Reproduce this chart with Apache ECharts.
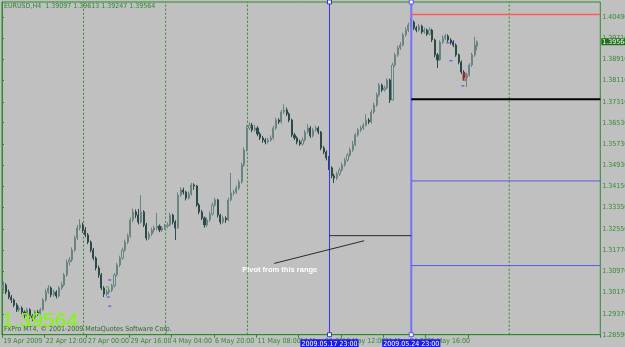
<!DOCTYPE html>
<html><head><meta charset="utf-8">
<script src="https://cdn.jsdelivr.net/npm/echarts@6/dist/echarts.min.js"></script>
<style>html,body{margin:0;padding:0;background:#c0c0c0;}#c{width:625px;height:347px;}</style>
</head><body><div id="c"></div>
<script>
// ---- data ----
const opens = [1.3030,1.3045,1.3019,1.3000,1.2989,1.2970,1.2952,1.2959,1.2944,1.2933,
 1.2952,1.2929,1.2922,1.2944,1.2937,1.2952,1.2989,1.3019,1.3034,1.3008,
 1.3019,1.3004,1.3034,1.3045,1.3083,1.3131,1.3139,1.3176,1.3221,1.3259,
 1.3270,1.3251,1.3233,1.3206,1.3176,1.3146,1.3109,1.3083,1.3034,1.3011,
 1.3019,1.3026,1.3042,1.3083,1.3120,1.3146,1.3176,1.3206,1.3229,1.3289,
 1.3319,1.3307,1.3281,1.3319,1.3270,1.3221,1.3236,1.3251,1.3259,1.3266,
 1.3251,1.3259,1.3266,1.3270,1.3307,1.3281,1.3259,1.3382,1.3401,1.3393,
 1.3371,1.3386,1.3420,1.3416,1.3345,1.3319,1.3296,1.3270,1.3289,1.3311,
 1.3345,1.3364,1.3307,1.3281,1.3296,1.3289,1.3364,1.3390,1.3393,1.3408,
 1.3431,1.3495,1.3551,1.3633,1.3644,1.3626,1.3633,1.3611,1.3596,1.3588,
 1.3581,1.3588,1.3596,1.3633,1.3663,1.3656,1.3693,1.3701,1.3686,1.3663,
 1.3607,1.3596,1.3581,1.3573,1.3588,1.3618,1.3633,1.3604,1.3626,1.3633,
 1.3618,1.3558,1.3543,1.3521,1.3484,1.3454,1.3446,1.3461,1.3476,1.3495,
 1.3513,1.3532,1.3551,1.3570,1.3607,1.3626,1.3633,1.3644,1.3663,1.3656,
 1.3693,1.3719,1.3757,1.3794,1.3776,1.3783,1.3813,1.3738,1.3869,1.3907,
 1.3933,1.3944,1.3982,1.4000,1.4019,1.4030,1.4008,1.4000,1.4015,1.3993,
 1.4000,1.3985,1.4000,1.3963,1.3907,1.3888,1.3955,1.3970,1.3978,1.3963,
 1.3955,1.3944,1.3907,1.3880,1.3843,1.3821,1.3832,1.3869,1.3907,1.3940];
const closes = [1.3045,1.3019,1.3000,1.2989,1.2970,1.2952,1.2959,1.2944,1.2933,1.2952,
 1.2929,1.2922,1.2944,1.2937,1.2952,1.2989,1.3019,1.3034,1.3008,1.3019,
 1.3004,1.3034,1.3045,1.3083,1.3131,1.3139,1.3176,1.3221,1.3259,1.3270,
 1.3251,1.3233,1.3206,1.3176,1.3146,1.3109,1.3083,1.3034,1.3011,1.3019,
 1.3026,1.3042,1.3083,1.3120,1.3146,1.3176,1.3206,1.3229,1.3289,1.3319,
 1.3307,1.3281,1.3319,1.3270,1.3221,1.3236,1.3251,1.3259,1.3266,1.3251,
 1.3259,1.3266,1.3270,1.3307,1.3281,1.3259,1.3382,1.3401,1.3393,1.3371,
 1.3386,1.3420,1.3416,1.3345,1.3319,1.3296,1.3270,1.3289,1.3311,1.3345,
 1.3364,1.3307,1.3281,1.3296,1.3289,1.3364,1.3390,1.3393,1.3408,1.3431,
 1.3495,1.3551,1.3633,1.3644,1.3626,1.3633,1.3611,1.3596,1.3588,1.3581,
 1.3588,1.3596,1.3633,1.3663,1.3656,1.3693,1.3701,1.3686,1.3663,1.3607,
 1.3596,1.3581,1.3573,1.3588,1.3618,1.3633,1.3604,1.3626,1.3633,1.3618,
 1.3558,1.3543,1.3521,1.3484,1.3454,1.3446,1.3461,1.3476,1.3495,1.3513,
 1.3532,1.3551,1.3570,1.3607,1.3626,1.3633,1.3644,1.3663,1.3656,1.3693,
 1.3719,1.3757,1.3794,1.3776,1.3783,1.3813,1.3738,1.3869,1.3907,1.3933,
 1.3944,1.3982,1.4000,1.4019,1.4030,1.4008,1.4000,1.4015,1.3993,1.4000,
 1.3985,1.4000,1.3963,1.3907,1.3888,1.3955,1.3970,1.3978,1.3963,1.3955,
 1.3944,1.3907,1.3880,1.3843,1.3821,1.3832,1.3869,1.3907,1.3944,1.39564];
const highs = [1.3058,1.3052,1.3028,1.3008,1.2995,1.2978,1.2968,1.2965,1.2950,1.2960,
 1.2958,1.2936,1.2950,1.2952,1.2960,1.2996,1.3030,1.3045,1.3040,1.3028,
 1.3025,1.3041,1.3056,1.3090,1.3140,1.3150,1.3186,1.3230,1.3270,1.3292,
 1.3279,1.3262,1.3240,1.3212,1.3184,1.3152,1.3118,1.3090,1.3041,1.3029,
 1.3035,1.3050,1.3090,1.3128,1.3155,1.3185,1.3215,1.3238,1.3298,1.3332,
 1.3328,1.3330,1.3382,1.3325,1.3278,1.3245,1.3260,1.3268,1.3315,1.3272,
 1.3266,1.3274,1.3280,1.3316,1.3312,1.3288,1.3392,1.3412,1.3410,1.3398,
 1.3395,1.3428,1.3426,1.3420,1.3352,1.3326,1.3302,1.3298,1.3320,1.3355,
 1.3372,1.3368,1.3312,1.3305,1.3302,1.3372,1.3465,1.3402,1.3418,1.3440,
 1.3503,1.3560,1.3642,1.3655,1.3652,1.3645,1.3640,1.3618,1.3604,1.3595,
 1.3597,1.3605,1.3642,1.3672,1.3670,1.3702,1.3722,1.3710,1.3692,1.3668,
 1.3615,1.3602,1.3590,1.3598,1.3626,1.3648,1.3640,1.3634,1.3642,1.3640,
 1.3622,1.3566,1.3550,1.3528,1.3490,1.3462,1.3470,1.3485,1.3504,1.3522,
 1.3540,1.3560,1.3585,1.3615,1.3634,1.3642,1.3652,1.3685,1.3670,1.3702,
 1.3728,1.3766,1.3802,1.3800,1.3792,1.3820,1.3818,1.3878,1.3915,1.3942,
 1.3955,1.3990,1.4010,1.4028,1.4045,1.4036,1.4015,1.4024,1.4020,1.4009,
 1.4006,1.4010,1.4005,1.3968,1.3914,1.3962,1.3980,1.3986,1.3984,1.3970,
 1.3962,1.3950,1.3912,1.3886,1.3850,1.3840,1.3876,1.3915,1.3975,1.39613];
const lows = [1.3022,1.3010,1.2992,1.2978,1.2962,1.2944,1.2945,1.2936,1.2921,1.2928,
 1.2918,1.2910,1.2915,1.2929,1.2931,1.2948,1.2982,1.3012,1.2999,1.3001,
 1.2995,1.2998,1.3027,1.3040,1.3076,1.3118,1.3132,1.3170,1.3214,1.3250,
 1.3240,1.3224,1.3198,1.3168,1.3138,1.3100,1.3072,1.3026,1.3000,1.3003,
 1.3010,1.3018,1.3036,1.3077,1.3112,1.3140,1.3170,1.3198,1.3222,1.3280,
 1.3296,1.3272,1.3275,1.3262,1.3212,1.3214,1.3228,1.3242,1.3250,1.3243,
 1.3244,1.3252,1.3258,1.3265,1.3272,1.3214,1.3255,1.3376,1.3384,1.3362,
 1.3365,1.3380,1.3402,1.3338,1.3310,1.3288,1.3260,1.3262,1.3282,1.3305,
 1.3338,1.3298,1.3272,1.3274,1.3278,1.3284,1.3358,1.3380,1.3386,1.3400,
 1.3425,1.3488,1.3545,1.3625,1.3618,1.3620,1.3602,1.3588,1.3578,1.3572,
 1.3575,1.3582,1.3590,1.3626,1.3648,1.3650,1.3686,1.3678,1.3655,1.3600,
 1.3588,1.3572,1.3566,1.3568,1.3582,1.3612,1.3596,1.3598,1.3620,1.3610,
 1.3550,1.3535,1.3512,1.3476,1.3445,1.3427,1.3438,1.3454,1.3470,1.3488,
 1.3506,1.3525,1.3544,1.3565,1.3600,1.3618,1.3626,1.3638,1.3648,1.3650,
 1.3686,1.3712,1.3750,1.3768,1.3770,1.3778,1.3727,1.3735,1.3862,1.3900,
 1.3925,1.3938,1.3975,1.3992,1.4012,1.4000,1.3992,1.3994,1.3985,1.3986,
 1.3978,1.3980,1.3955,1.3898,1.3858,1.3884,1.3948,1.3962,1.3955,1.3946,
 1.3936,1.3900,1.3872,1.3835,1.3812,1.3787,1.3826,1.3862,1.3900,1.39247];

const barSlots = 226;             // visible bar slots incl. empty future area
const timeTicks = ['19 Apr 2009','22 Apr 12:00','27 Apr 00:00','29 Apr 16:00','4 May 04:00','6 May 20:00',
  '11 May 08:00','14 May 00:00','18 May 12:00','21 May 04:00','25 May 16:00','28 May 08:00'];
const timeTickStep = 16;
const priceTicks = [1.28590,1.29370,1.30170,1.30970,1.31770,1.32550,1.33350,1.34150,
  1.34930,1.35730,1.36530,1.37310,1.38110,1.38910,1.39710,1.40490];
const priceMin = 1.28590, priceMax = 1.41052;
const separatorBars = [30.8, 61.8, 92.7, 191.6];
const rangeStartBar = 123.7, rangeEndBar = 154.6;
const rangeStartLabel = '2009.05.17 23:00', rangeEndLabel = '2009.05.24 23:00';
const levelRed = 1.4058, levelBlack = 1.3741, levelBlue1 = 1.3435, levelBlue2 = 1.3118;
const rangeLevel = 1.3230;
const arrowFrom = [102.8, 1.3126], arrowTo = [136.8, 1.3211];
const noteAt = [104.9, 1.3101];
const lastPrice = 1.39564;
const headerText = 'EURUSD,H4  1.39097 1.39613 1.39247 1.39564';
// small indicator marks (bar position, price)
const blueMarks = [[40.7, 1.3064], [40.2, 1.3000], [40.7, 1.2966], [168.4, 1.3952], [169.9, 1.3954], [169.6, 1.3885], [174.1, 1.3791]];
const greenMarks = [[39.8, 1.3038]];
const redMarks = [[174.6, 1.3824]];

// ---- chart ----
const GREEN = '#2f8a2f';
const SMALL = "'Liberation Sans Narrow','DejaVu Sans Condensed',sans-serif";
const chart = echarts.init(document.getElementById('c'));
const cats = closes.map((_, i) => i);
while (cats.length < barSlots) cats.push(cats.length);
const candleData = closes.map((c, i) => [opens[i], c, lows[i], highs[i]]);
const isTick = i => i % timeTickStep === 0 && i / timeTickStep < timeTicks.length;

function seg(pts, color, width, type, extra) {
  return Object.assign({
    type: 'line', xAxisIndex: 1, yAxisIndex: 0, data: pts, symbol: 'none', silent: true,
    lineStyle: { color: color, width: width, type: type || 'solid' }, z: 3, clip: false
  }, extra || {});
}
function handleMarks(x, color, label) {
  return {
    symbol: 'rect', symbolSize: 4, silent: true,
    itemStyle: { color: '#ffffff', borderColor: color, borderWidth: 1 },
    label: { show: false },
    data: [
      { coord: [x, priceMax] },
      { coord: [x, priceMin], label: { show: true, position: 'bottom', distance: 2, formatter: label,
        color: '#ffffff', backgroundColor: '#1c1cf0', padding: [1, 1, 0, 1], fontSize: 7, fontFamily: SMALL } }
    ]
  };
}
function marks(pts, color, size, fill) {
  return { type: 'scatter', xAxisIndex: 1, yAxisIndex: 0, data: pts, symbol: 'rect', symbolSize: size,
    silent: true, z: 4, itemStyle: { color: fill || color, borderColor: color, borderWidth: fill ? 1 : 0 } };
}

const series = [
  {
    type: 'candlestick', xAxisIndex: 0, yAxisIndex: 0, data: candleData, barWidth: 1.6, z: 2,
    itemStyle: { color: '#bcc8c8', color0: '#2c4a4a', borderColor: '#6a8484', borderColor0: '#2c4a4a', borderWidth: 1 }
  }
];
separatorBars.forEach(b => series.push(seg([[b, priceMin], [b, priceMax]], GREEN, 1, [2, 2], { z: 1 })));
series.push(seg([[rangeStartBar, priceMin], [rangeStartBar, priceMax]], '#3535d6', 1, 'solid',
  { markPoint: handleMarks(rangeStartBar, '#3535d6', rangeStartLabel) }));
series.push(seg([[rangeEndBar, priceMin], [rangeEndBar, priceMax]], '#7272ff', 2, 'solid',
  { markPoint: handleMarks(rangeEndBar, '#5555ff', rangeEndLabel) }));
series.push(seg([[rangeEndBar, levelRed], [barSlots, levelRed]], '#ff5a5a', 1.5));
series.push(seg([[rangeEndBar, levelBlack], [barSlots, levelBlack]], '#000000', 2));
series.push(seg([[rangeEndBar, levelBlue1], [barSlots, levelBlue1]], '#5a5ae6', 1));
series.push(seg([[rangeEndBar, levelBlue2], [barSlots, levelBlue2]], '#5a5ae6', 1));
series.push(seg([[rangeStartBar, rangeLevel], [rangeEndBar, rangeLevel]], '#2a2a2a', 1));
series.push(seg([arrowFrom, arrowTo], '#2a2a2a', 1, 'solid', {
  markPoint: {
    symbol: 'circle', symbolSize: 0, silent: true,
    data: [{ coord: noteAt }],
    label: { show: true, position: 'inside', formatter: 'Pivot from this range', color: '#ffffff',
      fontSize: 7.5, fontWeight: 'bold', fontFamily: "'Liberation Sans',sans-serif" }
  }
}));
series.push(marks(blueMarks, '#2222ee', [3, 1]));
series.push(marks(greenMarks, '#22aa22', [3, 1]));
series.push(marks(redMarks, '#ee2222', [3, 6], 'transparent'));
series.push(seg([[barSlots, lastPrice], [barSlots, lastPrice]], 'transparent', 0, 'solid', {
  markPoint: {
    symbol: 'circle', symbolSize: 0, silent: true,
    data: [{ coord: [barSlots, lastPrice] }],
    label: { show: true, position: 'right', distance: 1, formatter: lastPrice.toFixed(5), color: '#ffffff',
      backgroundColor: '#1f6f1f', padding: [0, 1, 0, 1], fontSize: 7, fontFamily: SMALL }
  }, z: 10
}));

chart.setOption({
  animation: false,
  backgroundColor: '#c0c0c0',
  grid: { left: 2, right: 24.7, top: 2, bottom: 12.3, show: true, borderColor: GREEN, borderWidth: 1,
    containLabel: false, outerBoundsMode: 'none' },
  xAxis: [
    {
      type: 'category', data: cats, boundaryGap: true,
      axisLine: { show: true, lineStyle: { color: GREEN } },
      axisTick: { show: true, interval: (i) => isTick(i), length: 3, lineStyle: { color: GREEN } },
      axisLabel: { show: true, interval: (i) => isTick(i), formatter: (v, i) => timeTicks[i / timeTickStep],
        align: 'left', margin: 3, fontSize: 7, color: GREEN, fontFamily: SMALL },
      splitLine: { show: false }
    },
    { type: 'value', min: 0, max: barSlots, show: false }
  ],
  yAxis: {
    type: 'value', position: 'right', min: priceMin, max: priceMax,
    axisLine: { show: true, lineStyle: { color: GREEN } },
    axisTick: { show: true, customValues: priceTicks, length: 2, lineStyle: { color: GREEN } },
    axisLabel: { show: true, customValues: priceTicks, formatter: v => v.toFixed(5), margin: 2,
      fontSize: 7, color: GREEN, fontFamily: SMALL },
    splitLine: { show: false }
  },
  graphic: [
    { type: 'text', left: 4, top: 3, z: 50, silent: true,
      style: { text: headerText, fill: GREEN, font: "7px 'Liberation Sans Narrow','DejaVu Sans Condensed',sans-serif" } },
    { type: 'text', left: 2, top: 311, z: 50, silent: true,
      style: { text: lastPrice.toFixed(5), fill: '#7cfc00', font: "21px 'Liberation Sans',Arial,sans-serif" } },
    { type: 'text', left: 4, top: 326, z: 51, silent: true,
      style: { text: 'FxPro MT4, © 2001-2009 MetaQuotes Software Corp.', fill: '#2c6a2c', font: "7px 'Liberation Sans Narrow','DejaVu Sans Condensed',sans-serif" } }
  ],
  series: series
});
</script></body></html>
